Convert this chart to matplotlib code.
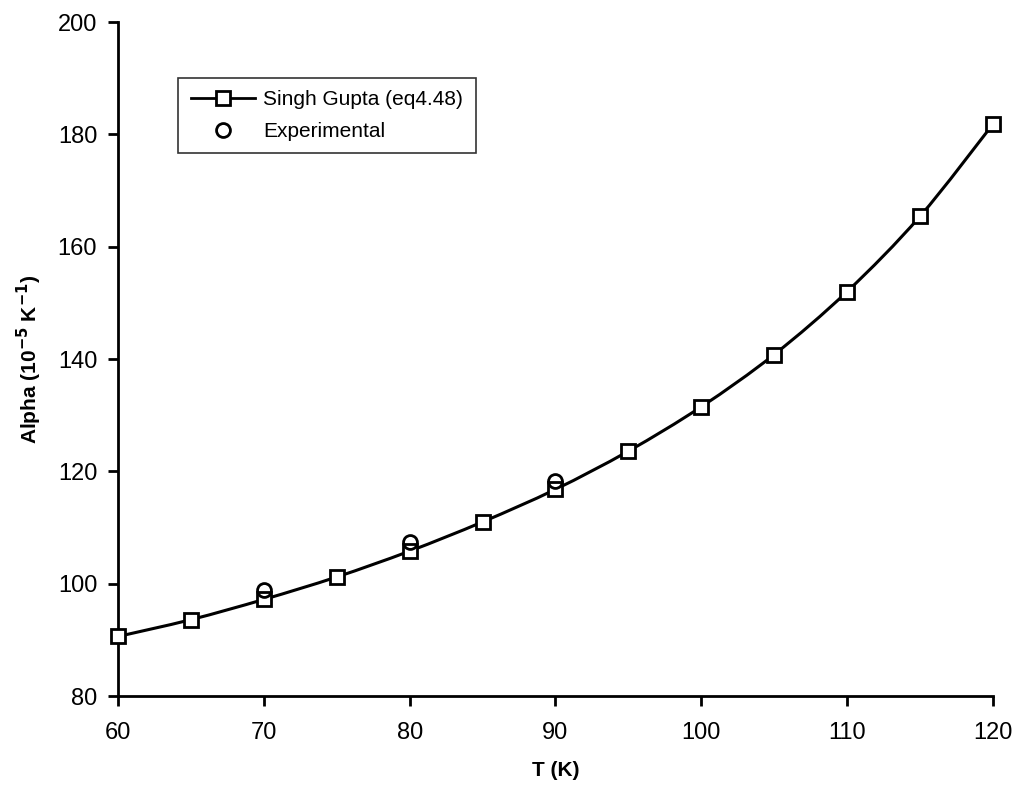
import matplotlib
matplotlib.use('Agg')
import matplotlib.pyplot as plt
from matplotlib.path import Path
from matplotlib.patches import PathPatch
from matplotlib.lines import Line2D

plt.rcParams['font.family'] = ['Liberation Sans', 'DejaVu Sans']

# Singh Gupta model (eq 4.48)
temps = [60, 65, 70, 75, 80, 85, 90, 95, 100, 105, 110, 115, 120]
alpha_model = [90.6, 93.6, 97.2, 101.2, 105.8, 111.0, 116.8, 123.6, 131.5, 140.8, 152.0, 165.4, 181.8]

# experimental values
temps_exp = [70, 80, 90]
alpha_exp = [98.8, 107.5, 118.2]


def smooth_path(xs, ys):
    # catmull-rom style bezier through the points (like excel smoothed line)
    verts = [(xs[0], ys[0])]
    codes = [Path.MOVETO]
    n = len(xs)
    for i in range(n - 1):
        x0, y0 = (xs[i - 1], ys[i - 1]) if i > 0 else (xs[i], ys[i])
        x1, y1 = xs[i], ys[i]
        x2, y2 = xs[i + 1], ys[i + 1]
        x3, y3 = (xs[i + 2], ys[i + 2]) if i + 2 < n else (x2, y2)
        c1 = (x1 + (x2 - x0) / 6, y1 + (y2 - y0) / 6)
        c2 = (x2 - (x3 - x1) / 6, y2 - (y3 - y1) / 6)
        verts += [c1, c2, (x2, y2)]
        codes += [Path.CURVE4] * 3
    return Path(verts, codes)


fig = plt.figure(figsize=(10.22, 7.98), dpi=100)
ax = fig.add_axes([0.1155, 0.1278, 0.856, 0.8446])

ax.add_patch(PathPatch(smooth_path(temps, alpha_model), fc='none', ec='black', lw=2.2))
ax.plot(temps, alpha_model, ls='none', marker='s', ms=10,
        mfc='white', mec='black', mew=2, clip_on=False, zorder=3)
ax.plot(temps_exp, alpha_exp, ls='none', marker='o', ms=10,
        mfc='none', mec='black', mew=2, clip_on=False, zorder=3)

ax.set_xlim(60, 120)
ax.set_ylim(80, 200)
ax.set_xticks(range(60, 121, 10))
ax.set_yticks(range(80, 201, 20))

for s in ['top', 'right']:
    ax.spines[s].set_visible(False)
for s in ['left', 'bottom']:
    ax.spines[s].set_linewidth(2)
ax.tick_params(direction='out', length=7, width=2, labelsize=17)
ax.tick_params(axis='x', pad=12)
ax.tick_params(axis='y', pad=8)

ax.set_xlabel('T (K)', fontsize=15, fontweight='bold', labelpad=12)
ax.set_ylabel(r'Alpha (10$^{\mathbf{-5}}$ K$^{\mathbf{-1}}$)', fontsize=15, fontweight='bold', labelpad=10)

handles = [
    Line2D([], [], color='black', lw=2, marker='s', ms=10, mfc='white', mec='black', mew=2),
    Line2D([], [], ls='none', marker='o', ms=10, mfc='none', mec='black', mew=2),
]
leg = ax.legend(handles, ['Singh Gupta (eq4.48)', 'Experimental'], loc='upper left',
                bbox_to_anchor=(0.0686, 0.917), fontsize=15,
                frameon=True, fancybox=False, edgecolor='black', borderpad=0.6,
                handlelength=3.1, handletextpad=0.4, labelspacing=0.6, borderaxespad=0)
leg.get_frame().set_linewidth(1.2)

fig.savefig('out.png', dpi=100)
